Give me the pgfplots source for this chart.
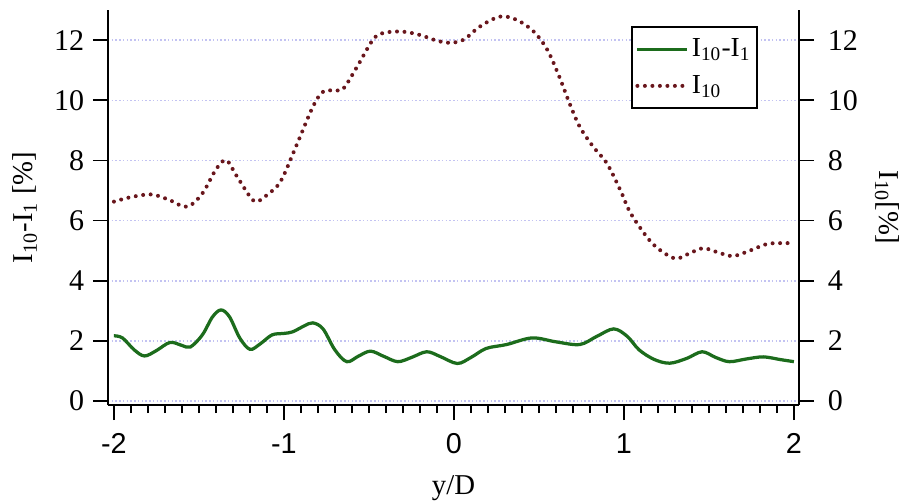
\documentclass[border=0pt]{standalone}
\usepackage{fontspec}
\setmainfont{Liberation Serif}
\newfontfamily\arial{Liberation Sans}
\usepackage{pgfplots}
\pgfplotsset{compat=1.18}
\definecolor{grn}{RGB}{28,108,28}
\definecolor{mrn}{RGB}{105,22,28}
\definecolor{gridc}{RGB}{195,195,242}

\pgfplotstableread{
x y
-2.00 2.17
-1.95 2.10
-1.88 1.70
-1.82 1.50
-1.75 1.68
-1.67 1.95
-1.60 1.85
-1.55 1.80
-1.48 2.20
-1.42 2.80
-1.37 3.03
-1.32 2.80
-1.26 2.10
-1.20 1.72
-1.14 1.90
-1.07 2.20
-1.00 2.25
-0.95 2.30
-0.88 2.50
-0.83 2.60
-0.77 2.40
-0.70 1.70
-0.63 1.31
-0.56 1.50
-0.49 1.66
-0.41 1.48
-0.33 1.31
-0.25 1.45
-0.16 1.64
-0.08 1.48
0.02 1.25
0.10 1.45
0.19 1.75
0.31 1.88
0.46 2.10
0.60 1.97
0.74 1.88
0.84 2.15
0.94 2.40
1.02 2.15
1.09 1.70
1.18 1.38
1.27 1.26
1.37 1.42
1.46 1.64
1.54 1.45
1.62 1.31
1.72 1.40
1.82 1.47
1.92 1.38
2.00 1.31
}\diffdata

\pgfplotstableread{
x y
-2.00 6.63
-1.90 6.78
-1.78 6.87
-1.68 6.70
-1.57 6.46
-1.48 6.90
-1.40 7.70
-1.34 8.01
-1.28 7.50
-1.20 6.80
-1.16 6.63
-1.10 6.85
-1.02 7.30
-0.93 8.45
-0.83 9.78
-0.77 10.28
-0.70 10.33
-0.65 10.39
-0.57 11.11
-0.47 12.06
-0.40 12.25
-0.30 12.28
-0.20 12.17
-0.10 11.98
-0.02 11.91
0.06 12.02
0.15 12.44
0.27 12.78
0.37 12.67
0.47 12.28
0.55 11.67
0.62 10.78
0.68 9.90
0.74 9.12
0.82 8.45
0.90 7.90
0.98 7.00
1.04 6.24
1.15 5.35
1.23 4.95
1.31 4.74
1.40 4.95
1.47 5.08
1.55 4.95
1.64 4.82
1.74 5.00
1.84 5.22
1.92 5.25
2.00 5.25
}\idata

\begin{document}
\begin{tikzpicture}
\pgfplotsset{
  common/.style={
    width=276.4pt, height=158pt, scale only axis,
    xmin=-2.035, xmax=2.03, ymin=-0.13, ymax=13.0,
    ytick={0,2,4,6,8,10,12},
    tick align=outside,
    major tick length=6pt, minor tick length=3.2pt,
    axis line style={-, line width=0.7pt, black},
    every tick/.style={black, line width=0.7pt},
    yticklabel style={font=\fontsize{12}{13}\selectfont},
    /pgf/number format/assume math mode=true,
    label style={font=\fontsize{11.5}{13}\selectfont},
  }
}
\begin{axis}[common, name=ax,
  axis x line*=bottom, axis y line*=left,
  xtick={-2,-1,0,1,2}, xticklabels={-2,-1,0,1,2},
  minor x tick num=9,
  xticklabel style={font=\arial\fontsize{11.5}{12}\selectfont, yshift=-2pt},
  ymajorgrids,
  major grid style={gridc, line width=0.6pt, dash pattern=on 0.6pt off 0.9pt},
  xlabel={y/D},
  xlabel style={yshift=-1.5pt},
  ylabel={I\textsubscript{10}-I\textsubscript{1} [\%]},
  legend style={at={(1,1)}, anchor=north east, xshift=-16.4pt, yshift=-6.4pt,
    draw=black, line width=0.8pt, fill=white,
    font=\fontsize{11}{12}\selectfont, row sep=4pt,
    nodes={inner sep=1pt},
    inner xsep=1.5pt, inner ysep=3.5pt},
  legend cell align=left,
  legend image code/.code={\draw[#1] (0pt,0pt) -- (20pt,0pt);},
]
\addplot[grn, line width=1.3pt, smooth, tension=0.55] table[x=x,y=y] {\diffdata};
\addlegendentry{I\textsubscript{10}-I\textsubscript{1}}
\addplot[mrn, line width=1.6pt, line cap=round, dash pattern=on 0pt off 3pt, smooth, tension=0.55] table[x=x,y=y] {\idata};
\addlegendentry{I\textsubscript{10}}
\end{axis}
\begin{axis}[common,
  axis x line=none, axis y line*=right,
  yticklabel style={xshift=2pt},
  ylabel={I\textsubscript{10}[\%]},
  ylabel style={rotate=180},
]
\end{axis}
\pgfresetboundingbox
\path ([shift={(-43.2pt,-39.2pt)}]ax.south west) rectangle ([shift={(41.6pt,4pt)}]ax.north east);
\end{tikzpicture}
\end{document}
